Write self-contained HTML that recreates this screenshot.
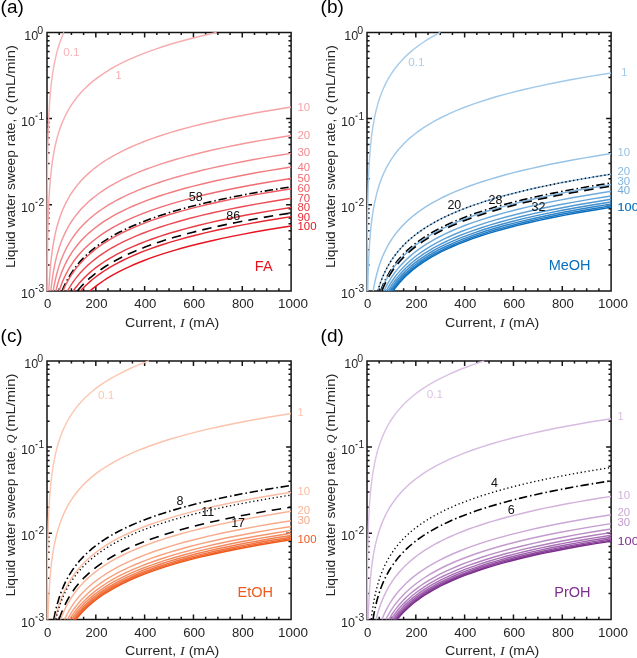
<!DOCTYPE html><html><head><meta charset="utf-8"><style>html,body{margin:0;padding:0;background:#fff;}svg{display:block;filter:blur(0.35px);}svg{font-family:"Liberation Sans",sans-serif;}</style></head><body>
<svg width="637" height="658" viewBox="0 0 637 658">
<rect width="637" height="658" fill="#fff"/>
<defs><clipPath id="clip"><rect x="46.30" y="31.70" width="245.50" height="259.90"/></clipPath></defs>
<g transform="translate(0,0)">
<text x="0.6" y="13.1" font-size="17.5" fill="#000" textLength="23.2" lengthAdjust="spacingAndGlyphs">(a)</text>
<path d="M47.00 32.40H291.10V290.90H47.00Z" fill="none" stroke="#151515" stroke-width="1.50"/>
<text x="47.70" y="308.1" font-size="12.5" fill="#262626" text-anchor="middle" textLength="7.30" lengthAdjust="spacingAndGlyphs">0</text>
<text x="96.52" y="308.1" font-size="12.5" fill="#262626" text-anchor="middle" textLength="21.90" lengthAdjust="spacingAndGlyphs">200</text>
<text x="145.34" y="308.1" font-size="12.5" fill="#262626" text-anchor="middle" textLength="21.90" lengthAdjust="spacingAndGlyphs">400</text>
<text x="194.16" y="308.1" font-size="12.5" fill="#262626" text-anchor="middle" textLength="21.90" lengthAdjust="spacingAndGlyphs">600</text>
<text x="242.98" y="308.1" font-size="12.5" fill="#262626" text-anchor="middle" textLength="21.90" lengthAdjust="spacingAndGlyphs">800</text>
<text x="293.00" y="308.1" font-size="12.5" fill="#262626" text-anchor="middle" textLength="30.00" lengthAdjust="spacingAndGlyphs">1000</text>
<text x="35.10" y="298.10" font-size="12.5" fill="#262626" text-anchor="end" textLength="14.0" lengthAdjust="spacingAndGlyphs">10</text>
<rect x="35.4" y="288.00" width="2.2" height="1.0" fill="#262626"/>
<text x="44.2" y="292.00" font-size="10.3" fill="#262626" text-anchor="end">3</text>
<text x="35.10" y="211.93" font-size="12.5" fill="#262626" text-anchor="end" textLength="14.0" lengthAdjust="spacingAndGlyphs">10</text>
<rect x="35.4" y="201.83" width="2.2" height="1.0" fill="#262626"/>
<text x="44.2" y="205.83" font-size="10.3" fill="#262626" text-anchor="end">2</text>
<text x="35.10" y="125.77" font-size="12.5" fill="#262626" text-anchor="end" textLength="14.0" lengthAdjust="spacingAndGlyphs">10</text>
<rect x="35.4" y="115.67" width="2.2" height="1.0" fill="#262626"/>
<text x="44.2" y="119.67" font-size="10.3" fill="#262626" text-anchor="end">1</text>
<text x="38.30" y="39.60" font-size="12.5" fill="#262626" text-anchor="end" textLength="14.0" lengthAdjust="spacingAndGlyphs">10</text>
<text x="43.2" y="33.50" font-size="10.6" fill="#262626" text-anchor="end">0</text>
<text x="125.00" y="326.6" font-size="12.5" fill="#262626" textLength="94.3" lengthAdjust="spacingAndGlyphs">Current, <tspan font-family="Liberation Serif" font-style="italic">I</tspan> (mA)</text>
<g transform="translate(14.9,0) rotate(-90)">
<text x="-268.00" y="0" font-size="12.5" fill="#262626" textLength="149.30" lengthAdjust="spacingAndGlyphs">Liquid water sweep rate,</text>
<text x="-115.10" y="0" font-size="12.5" fill="#262626" font-family="Liberation Serif" font-style="italic">Q</text>
<text x="-103.20" y="0" font-size="12.5" fill="#262626" textLength="58.10" lengthAdjust="spacingAndGlyphs">(mL/min)</text>
</g>
<path d="M59.20 290.90v-2.60M59.20 32.40v2.60M71.41 290.90v-2.60M71.41 32.40v2.60M83.62 290.90v-2.60M83.62 32.40v2.60M95.82 290.90v-5.00M95.82 32.40v5.00M108.03 290.90v-2.60M108.03 32.40v2.60M120.23 290.90v-2.60M120.23 32.40v2.60M132.44 290.90v-2.60M132.44 32.40v2.60M144.64 290.90v-5.00M144.64 32.40v5.00M156.85 290.90v-2.60M156.85 32.40v2.60M169.05 290.90v-2.60M169.05 32.40v2.60M181.25 290.90v-2.60M181.25 32.40v2.60M193.46 290.90v-5.00M193.46 32.40v5.00M205.67 290.90v-2.60M205.67 32.40v2.60M217.87 290.90v-2.60M217.87 32.40v2.60M230.08 290.90v-2.60M230.08 32.40v2.60M242.28 290.90v-5.00M242.28 32.40v5.00M254.49 290.90v-2.60M254.49 32.40v2.60M266.69 290.90v-2.60M266.69 32.40v2.60M278.90 290.90v-2.60M278.90 32.40v2.60M47.00 264.96h2.60M291.10 264.96h-2.60M47.00 249.79h2.60M291.10 249.79h-2.60M47.00 239.02h2.60M291.10 239.02h-2.60M47.00 230.67h2.60M291.10 230.67h-2.60M47.00 223.85h2.60M291.10 223.85h-2.60M47.00 218.08h2.60M291.10 218.08h-2.60M47.00 213.08h2.60M291.10 213.08h-2.60M47.00 208.68h2.60M291.10 208.68h-2.60M47.00 204.73h5.00M291.10 204.73h-5.00M47.00 178.79h2.60M291.10 178.79h-2.60M47.00 163.62h2.60M291.10 163.62h-2.60M47.00 152.86h2.60M291.10 152.86h-2.60M47.00 144.51h2.60M291.10 144.51h-2.60M47.00 137.68h2.60M291.10 137.68h-2.60M47.00 131.91h2.60M291.10 131.91h-2.60M47.00 126.92h2.60M291.10 126.92h-2.60M47.00 122.51h2.60M291.10 122.51h-2.60M47.00 118.57h5.00M291.10 118.57h-5.00M47.00 92.63h2.60M291.10 92.63h-2.60M47.00 77.45h2.60M291.10 77.45h-2.60M47.00 66.69h2.60M291.10 66.69h-2.60M47.00 58.34h2.60M291.10 58.34h-2.60M47.00 51.52h2.60M291.10 51.52h-2.60M47.00 45.75h2.60M291.10 45.75h-2.60M47.00 40.75h2.60M291.10 40.75h-2.60M47.00 36.34h2.60M291.10 36.34h-2.60" fill="none" stroke="#151515" stroke-width="1.50"/>
<g clip-path="url(#clip)" fill="none"><path d="M47.02 290.90L47.03 274.74 47.04 258.59 47.06 242.43 47.09 226.27 47.15 210.12 47.22 193.96 47.35 177.81 47.53 161.65 47.82 145.49 48.26 129.34 48.95 113.18 49.42 105.10 50.00 97.02 50.72 88.95 51.62 80.87 52.73 72.79 54.11 64.71 54.92 60.67 55.83 56.63 56.83 52.60 57.95 48.56 59.20 44.52 60.59 40.48 62.14 36.44 63.87 32.40" stroke="#f8b4b6" stroke-width="1.45"/><path d="M47.17 290.90L47.26 274.74 47.40 258.59 47.62 242.43 47.95 226.27 48.47 210.12 48.82 202.04 49.26 193.96 49.81 185.88 50.48 177.81 51.32 169.73 52.36 161.65 53.65 153.57 54.41 149.53 55.26 145.49 56.20 141.45 57.25 137.42 58.42 133.38 59.72 129.34 61.17 125.30 62.78 121.26 64.58 117.22 66.58 113.18 68.82 109.14 71.30 105.10 74.07 101.06 77.16 97.02 80.59 92.99 84.42 88.95 88.69 84.91 91.00 82.89 93.44 80.87 96.01 78.85 98.73 76.83 101.60 74.81 104.63 72.79 107.82 70.77 111.20 68.75 114.76 66.73 118.51 64.71 122.48 62.69 126.66 60.67 131.08 58.65 135.74 56.63 140.66 54.61 145.86 52.60 151.34 50.58 157.12 48.56 163.23 46.54 169.68 44.52 176.48 42.50 183.66 40.48 191.24 38.46 199.23 36.44 207.67 34.42 216.58 32.40" stroke="#f7adaf" stroke-width="1.45"/><path d="M48.79 290.90L49.44 279.41 50.32 267.92 50.87 262.17 51.51 256.43 52.26 250.68 53.13 244.94 54.15 239.19 55.33 233.45 56.71 227.70 58.33 221.96 60.21 216.21 62.40 210.47 63.63 207.60 64.95 204.72 66.38 201.85 67.93 198.98 69.60 196.11 71.40 193.23 73.35 190.36 75.45 187.49 77.72 184.62 80.17 181.74 82.82 178.87 85.68 176.00 88.77 173.13 92.10 170.25 95.70 167.38 99.58 164.51 103.78 161.64 108.31 158.76 113.20 155.89 118.48 153.02 124.18 150.15 130.34 147.27 136.99 144.40 144.17 141.53 151.92 138.66 160.29 135.78 169.33 132.91 179.09 130.04 189.63 127.17 201.01 124.29 213.30 121.42 226.56 118.55 240.89 115.68 256.36 112.80 273.06 109.93 291.10 107.06" stroke="#f6a3a5" stroke-width="1.45"/><path d="M50.84 290.90L51.98 281.19 52.67 276.33 53.45 271.48 54.34 266.62 55.36 261.76 56.52 256.91 57.84 252.05 59.34 247.19 61.05 242.34 63.00 237.48 65.21 232.63 67.74 227.77 69.13 225.34 70.61 222.91 72.19 220.49 73.88 218.06 75.69 215.63 77.61 213.20 79.66 210.77 81.85 208.35 84.19 205.92 86.68 203.49 89.34 201.06 92.18 198.63 95.21 196.21 98.44 193.78 101.89 191.35 105.56 188.92 109.49 186.49 113.68 184.07 118.15 181.64 122.92 179.21 128.01 176.78 133.44 174.35 139.23 171.92 145.42 169.50 152.01 167.07 159.05 164.64 166.56 162.21 174.58 159.78 183.13 157.36 192.26 154.93 201.99 152.50 212.38 150.07 223.47 147.64 235.30 145.22 247.92 142.79 261.39 140.36 275.76 137.93 291.10 135.50" stroke="#f5969a" stroke-width="1.45"/><path d="M53.19 290.90L53.94 286.60 54.78 282.30 55.73 278.01 56.79 273.71 57.99 269.41 59.32 265.11 60.82 260.81 62.50 256.52 64.39 252.22 66.51 247.92 68.88 243.62 71.55 239.32 74.53 235.03 77.88 230.73 79.71 228.58 81.64 226.43 83.69 224.28 85.86 222.13 88.16 219.98 90.59 217.83 93.16 215.69 95.89 213.54 98.78 211.39 101.84 209.24 105.09 207.09 108.52 204.94 112.15 202.79 116.01 200.64 120.08 198.49 124.40 196.34 128.98 194.20 133.83 192.05 138.96 189.90 144.39 187.75 150.15 185.60 156.25 183.45 162.70 181.30 169.54 179.15 176.79 177.00 184.46 174.85 192.58 172.71 201.19 170.56 210.30 168.41 219.95 166.26 230.18 164.11 241.00 161.96 252.47 159.81 264.61 157.66 277.48 155.51 291.10 153.36" stroke="#f3898d" stroke-width="1.45"/><path d="M55.91 290.90L56.88 287.03 57.96 283.16 59.15 279.29 60.48 275.42 61.95 271.54 63.58 267.67 65.38 263.80 67.39 259.93 69.61 256.06 72.07 252.19 74.81 248.32 77.84 244.45 81.20 240.58 84.92 236.70 89.06 232.83 93.64 228.96 98.72 225.09 101.47 223.16 104.36 221.22 107.40 219.28 110.61 217.35 113.99 215.41 117.54 213.48 121.29 211.54 125.23 209.61 129.39 207.67 133.76 205.74 138.36 203.80 143.21 201.86 148.32 199.93 153.70 197.99 159.36 196.06 165.33 194.12 171.61 192.19 178.22 190.25 185.19 188.32 192.53 186.38 200.25 184.44 208.39 182.51 216.95 180.57 225.97 178.64 235.47 176.70 245.48 174.77 256.02 172.83 267.11 170.90 278.80 168.96 291.10 167.02" stroke="#f27b7f" stroke-width="1.45"/><path d="M59.11 290.90L60.31 287.39 61.61 283.88 63.05 280.36 64.63 276.85 66.37 273.34 68.27 269.83 70.37 266.32 72.67 262.80 75.19 259.29 77.96 255.78 81.01 252.27 84.36 248.76 88.03 245.24 92.07 241.73 96.51 238.22 101.38 234.71 106.73 231.19 112.61 227.68 119.06 224.17 126.15 220.66 133.94 217.15 142.49 213.63 151.89 210.12 162.21 206.61 173.55 203.10 186.00 199.59 199.68 196.07 207.01 194.32 214.70 192.56 222.76 190.81 231.20 189.05 240.05 187.29 249.32 185.54 259.05 183.78 269.23 182.03 279.91 180.27 291.10 178.51" stroke="#f06b71" stroke-width="1.45"/><path d="M62.11 290.90L63.48 287.65 64.98 284.39 66.61 281.14 68.39 277.89 70.34 274.63 72.46 271.38 74.77 268.12 77.29 264.87 80.04 261.62 83.04 258.36 86.32 255.11 89.89 251.86 93.79 248.60 98.04 245.35 102.67 242.09 107.73 238.84 113.25 235.59 119.26 232.33 125.83 229.08 132.99 225.83 140.80 222.57 149.32 219.32 158.62 216.07 168.75 212.81 179.81 209.56 191.88 206.30 205.04 203.05 219.40 199.80 235.06 196.54 252.14 193.29 270.77 190.04 291.10 186.78" stroke="#000" stroke-width="1.60" stroke-dasharray="8.4 3.0 1.5 2.8"/><path d="M62.93 290.90L64.35 287.71 65.89 284.52 67.58 281.32 69.41 278.13 71.40 274.94 73.57 271.75 75.94 268.56 78.52 265.37 81.32 262.17 84.38 258.98 87.71 255.79 91.33 252.60 95.28 249.41 99.58 246.21 104.26 243.02 109.36 239.83 114.91 236.64 120.96 233.45 127.54 230.26 134.71 227.06 142.52 223.87 151.03 220.68 160.29 217.49 170.38 214.30 181.36 211.10 193.32 207.91 206.35 204.72 220.54 201.53 235.99 198.34 252.82 195.15 271.14 191.95 291.10 188.76" stroke="#ee5b62" stroke-width="1.45"/><path d="M67.56 290.90L69.21 288.01 70.99 285.11 72.92 282.22 75.01 279.33 77.26 276.43 79.69 273.54 82.32 270.64 85.16 267.75 88.23 264.86 91.54 261.96 95.12 259.07 98.99 256.18 103.17 253.28 107.69 250.39 112.56 247.49 117.83 244.60 123.53 241.71 129.68 238.81 136.33 235.92 143.51 233.03 151.27 230.13 159.65 227.24 168.71 224.34 178.49 221.45 189.07 218.56 200.49 215.66 212.83 212.77 226.16 209.88 240.56 206.98 256.12 204.09 272.94 201.20 291.10 198.30" stroke="#ec4a52" stroke-width="1.45"/><path d="M73.28 290.90L75.17 288.29 77.21 285.69 79.38 283.08 81.72 280.47 84.23 277.87 86.91 275.26 89.79 272.65 92.88 270.05 96.19 267.44 99.73 264.84 103.54 262.23 107.62 259.62 111.99 257.02 116.68 254.41 121.70 251.80 127.09 249.20 132.87 246.59 139.06 243.98 145.70 241.38 152.82 238.77 160.46 236.16 168.64 233.56 177.41 230.95 186.82 228.34 196.91 225.74 207.72 223.13 219.31 220.53 231.74 217.92 245.07 215.31 259.36 212.71 274.68 210.10 291.10 207.49" stroke="#ea3941" stroke-width="1.45"/><path d="M77.41 290.90L79.46 288.46 81.64 286.03 83.97 283.59 86.46 281.16 89.11 278.72 91.94 276.29 94.96 273.85 98.19 271.42 101.63 268.98 105.31 266.54 109.23 264.11 113.41 261.67 117.88 259.24 122.65 256.80 127.73 254.37 133.16 251.93 138.96 249.50 145.14 247.06 151.74 244.62 158.78 242.19 166.30 239.75 174.32 237.32 182.89 234.88 192.02 232.45 201.78 230.01 212.19 227.58 223.29 225.14 235.15 222.70 247.80 220.27 261.31 217.83 275.72 215.40 291.10 212.96" stroke="#000" stroke-width="1.60" stroke-dasharray="9.5 6.2"/><path d="M80.54 290.90L82.69 288.58 84.97 286.26 87.40 283.94 89.99 281.62 92.74 279.29 95.66 276.97 98.78 274.65 102.09 272.33 105.61 270.01 109.37 267.69 113.36 265.37 117.60 263.05 122.12 260.73 126.93 258.40 132.04 256.08 137.48 253.76 143.27 251.44 149.43 249.12 155.99 246.80 162.96 244.48 170.38 242.16 178.28 239.84 186.68 237.51 195.62 235.19 205.13 232.87 215.25 230.55 226.01 228.23 237.47 225.91 249.65 223.59 262.62 221.27 276.42 218.95 291.10 216.62" stroke="#e82730" stroke-width="1.45"/><path d="M90.06 290.90L92.46 288.87 94.99 286.84 97.67 284.81 100.49 282.78 103.47 280.76 106.62 278.73 109.94 276.70 113.44 274.67 117.15 272.64 121.05 270.61 125.18 268.58 129.54 266.55 134.13 264.52 138.99 262.50 144.11 260.47 149.53 258.44 155.24 256.41 161.27 254.38 167.63 252.35 174.35 250.32 181.45 248.29 188.94 246.26 196.85 244.24 205.20 242.21 214.01 240.18 223.32 238.15 233.14 236.12 243.51 234.09 254.46 232.06 266.02 230.03 278.22 228.00 291.10 225.98" stroke="#e6141e" stroke-width="1.45"/></g>
<text x="297.50" y="110.84" font-size="11" fill="#f6a3a5" textLength="12.70" lengthAdjust="spacingAndGlyphs">10</text>
<text x="297.50" y="139.24" font-size="11" fill="#f5969a" textLength="12.70" lengthAdjust="spacingAndGlyphs">20</text>
<text x="297.50" y="156.44" font-size="11" fill="#f3898d" textLength="12.70" lengthAdjust="spacingAndGlyphs">30</text>
<text x="297.50" y="170.64" font-size="11" fill="#f27b7f" textLength="12.70" lengthAdjust="spacingAndGlyphs">40</text>
<text x="297.50" y="181.54" font-size="11" fill="#f06b71" textLength="12.70" lengthAdjust="spacingAndGlyphs">50</text>
<text x="297.50" y="191.64" font-size="11" fill="#ee5b62" textLength="12.70" lengthAdjust="spacingAndGlyphs">60</text>
<text x="297.50" y="201.74" font-size="11" fill="#ec4a52" textLength="12.70" lengthAdjust="spacingAndGlyphs">70</text>
<text x="297.50" y="211.24" font-size="11" fill="#ea3941" textLength="12.70" lengthAdjust="spacingAndGlyphs">80</text>
<text x="297.50" y="220.64" font-size="11" fill="#e82730" textLength="12.70" lengthAdjust="spacingAndGlyphs">90</text>
<text x="297.50" y="230.24" font-size="11" fill="#e6141e" textLength="19.05" lengthAdjust="spacingAndGlyphs">100</text>
<text x="71.30" y="55.94" font-size="11" fill="#f8b4b6" text-anchor="middle" textLength="16.3" lengthAdjust="spacingAndGlyphs">0.1</text>
<text x="118.50" y="78.84" font-size="11" fill="#f7adaf" text-anchor="middle">1</text>
<text x="195.80" y="200.77" font-size="12.5" fill="#111" text-anchor="middle">58</text>
<text x="233.20" y="219.87" font-size="12.5" fill="#111" text-anchor="middle">86</text>
<text x="272.60" y="270.60" font-size="14.5" fill="#e6141e" text-anchor="end">FA</text>
</g>
<g transform="translate(320,0)">
<text x="0.6" y="13.1" font-size="17.5" fill="#000" textLength="23.2" lengthAdjust="spacingAndGlyphs">(b)</text>
<path d="M47.00 32.40H291.10V290.90H47.00Z" fill="none" stroke="#151515" stroke-width="1.50"/>
<text x="47.70" y="308.1" font-size="12.5" fill="#262626" text-anchor="middle" textLength="7.30" lengthAdjust="spacingAndGlyphs">0</text>
<text x="96.52" y="308.1" font-size="12.5" fill="#262626" text-anchor="middle" textLength="21.90" lengthAdjust="spacingAndGlyphs">200</text>
<text x="145.34" y="308.1" font-size="12.5" fill="#262626" text-anchor="middle" textLength="21.90" lengthAdjust="spacingAndGlyphs">400</text>
<text x="194.16" y="308.1" font-size="12.5" fill="#262626" text-anchor="middle" textLength="21.90" lengthAdjust="spacingAndGlyphs">600</text>
<text x="242.98" y="308.1" font-size="12.5" fill="#262626" text-anchor="middle" textLength="21.90" lengthAdjust="spacingAndGlyphs">800</text>
<text x="293.00" y="308.1" font-size="12.5" fill="#262626" text-anchor="middle" textLength="30.00" lengthAdjust="spacingAndGlyphs">1000</text>
<text x="35.10" y="298.10" font-size="12.5" fill="#262626" text-anchor="end" textLength="14.0" lengthAdjust="spacingAndGlyphs">10</text>
<rect x="35.4" y="288.00" width="2.2" height="1.0" fill="#262626"/>
<text x="44.2" y="292.00" font-size="10.3" fill="#262626" text-anchor="end">3</text>
<text x="35.10" y="211.93" font-size="12.5" fill="#262626" text-anchor="end" textLength="14.0" lengthAdjust="spacingAndGlyphs">10</text>
<rect x="35.4" y="201.83" width="2.2" height="1.0" fill="#262626"/>
<text x="44.2" y="205.83" font-size="10.3" fill="#262626" text-anchor="end">2</text>
<text x="35.10" y="125.77" font-size="12.5" fill="#262626" text-anchor="end" textLength="14.0" lengthAdjust="spacingAndGlyphs">10</text>
<rect x="35.4" y="115.67" width="2.2" height="1.0" fill="#262626"/>
<text x="44.2" y="119.67" font-size="10.3" fill="#262626" text-anchor="end">1</text>
<text x="38.30" y="39.60" font-size="12.5" fill="#262626" text-anchor="end" textLength="14.0" lengthAdjust="spacingAndGlyphs">10</text>
<text x="43.2" y="33.50" font-size="10.6" fill="#262626" text-anchor="end">0</text>
<text x="125.00" y="326.6" font-size="12.5" fill="#262626" textLength="94.3" lengthAdjust="spacingAndGlyphs">Current, <tspan font-family="Liberation Serif" font-style="italic">I</tspan> (mA)</text>
<g transform="translate(14.9,0) rotate(-90)">
<text x="-268.00" y="0" font-size="12.5" fill="#262626" textLength="149.30" lengthAdjust="spacingAndGlyphs">Liquid water sweep rate,</text>
<text x="-115.10" y="0" font-size="12.5" fill="#262626" font-family="Liberation Serif" font-style="italic">Q</text>
<text x="-103.20" y="0" font-size="12.5" fill="#262626" textLength="58.10" lengthAdjust="spacingAndGlyphs">(mL/min)</text>
</g>
<path d="M59.20 290.90v-2.60M59.20 32.40v2.60M71.41 290.90v-2.60M71.41 32.40v2.60M83.62 290.90v-2.60M83.62 32.40v2.60M95.82 290.90v-5.00M95.82 32.40v5.00M108.03 290.90v-2.60M108.03 32.40v2.60M120.23 290.90v-2.60M120.23 32.40v2.60M132.44 290.90v-2.60M132.44 32.40v2.60M144.64 290.90v-5.00M144.64 32.40v5.00M156.85 290.90v-2.60M156.85 32.40v2.60M169.05 290.90v-2.60M169.05 32.40v2.60M181.25 290.90v-2.60M181.25 32.40v2.60M193.46 290.90v-5.00M193.46 32.40v5.00M205.67 290.90v-2.60M205.67 32.40v2.60M217.87 290.90v-2.60M217.87 32.40v2.60M230.08 290.90v-2.60M230.08 32.40v2.60M242.28 290.90v-5.00M242.28 32.40v5.00M254.49 290.90v-2.60M254.49 32.40v2.60M266.69 290.90v-2.60M266.69 32.40v2.60M278.90 290.90v-2.60M278.90 32.40v2.60M47.00 264.96h2.60M291.10 264.96h-2.60M47.00 249.79h2.60M291.10 249.79h-2.60M47.00 239.02h2.60M291.10 239.02h-2.60M47.00 230.67h2.60M291.10 230.67h-2.60M47.00 223.85h2.60M291.10 223.85h-2.60M47.00 218.08h2.60M291.10 218.08h-2.60M47.00 213.08h2.60M291.10 213.08h-2.60M47.00 208.68h2.60M291.10 208.68h-2.60M47.00 204.73h5.00M291.10 204.73h-5.00M47.00 178.79h2.60M291.10 178.79h-2.60M47.00 163.62h2.60M291.10 163.62h-2.60M47.00 152.86h2.60M291.10 152.86h-2.60M47.00 144.51h2.60M291.10 144.51h-2.60M47.00 137.68h2.60M291.10 137.68h-2.60M47.00 131.91h2.60M291.10 131.91h-2.60M47.00 126.92h2.60M291.10 126.92h-2.60M47.00 122.51h2.60M291.10 122.51h-2.60M47.00 118.57h5.00M291.10 118.57h-5.00M47.00 92.63h2.60M291.10 92.63h-2.60M47.00 77.45h2.60M291.10 77.45h-2.60M47.00 66.69h2.60M291.10 66.69h-2.60M47.00 58.34h2.60M291.10 58.34h-2.60M47.00 51.52h2.60M291.10 51.52h-2.60M47.00 45.75h2.60M291.10 45.75h-2.60M47.00 40.75h2.60M291.10 40.75h-2.60M47.00 36.34h2.60M291.10 36.34h-2.60" fill="none" stroke="#151515" stroke-width="1.50"/>
<g clip-path="url(#clip)" fill="none"><path d="M47.07 290.90L47.11 274.74 47.17 258.59 47.27 242.43 47.41 226.27 47.64 210.12 47.98 193.96 48.51 177.81 48.87 169.73 49.32 161.65 49.88 153.57 50.57 145.49 51.43 137.42 52.50 129.34 53.83 121.26 54.61 117.22 55.47 113.18 56.44 109.14 57.51 105.10 58.71 101.06 60.05 97.02 61.53 92.99 63.19 88.95 65.04 84.91 67.09 80.87 69.38 76.83 71.93 72.79 74.77 68.75 77.94 64.71 81.47 60.67 85.39 56.63 87.52 54.61 89.77 52.60 92.14 50.58 94.65 48.56 97.29 46.54 100.08 44.52 103.02 42.50 106.13 40.48 109.40 38.46 112.86 36.44 116.52 34.42 120.37 32.40" stroke="#a8cdeb" stroke-width="1.45"/><path d="M47.72 290.90L48.04 277.28 48.50 263.66 49.15 250.04 49.58 243.23 50.10 236.42 50.71 229.61 51.45 222.80 52.34 215.99 53.41 209.18 54.69 202.37 56.23 195.56 57.10 192.15 58.07 188.75 59.12 185.34 60.28 181.94 61.54 178.53 62.92 175.13 64.44 171.72 66.10 168.32 67.92 164.91 69.92 161.51 72.10 158.10 74.49 154.70 77.11 151.29 79.98 147.89 83.12 144.48 86.56 141.08 90.33 137.67 94.45 134.27 98.97 130.86 103.93 127.46 109.35 124.05 115.29 120.65 121.79 117.24 128.92 113.84 136.72 110.43 145.27 107.03 154.63 103.62 164.88 100.22 176.11 96.81 188.41 93.41 201.88 90.00 216.63 86.60 232.79 83.19 250.49 79.79 269.87 76.38 291.10 72.98" stroke="#a1c9e9" stroke-width="1.45"/><path d="M53.22 290.90L53.98 286.61 54.83 282.32 55.78 278.03 56.84 273.74 58.04 269.45 59.38 265.15 60.89 260.86 62.57 256.57 64.47 252.28 66.59 247.99 68.97 243.70 71.64 239.41 74.63 235.12 77.99 230.83 79.82 228.68 81.75 226.54 83.80 224.39 85.98 222.24 88.28 220.10 90.71 217.95 93.29 215.81 96.02 213.66 98.91 211.52 101.98 209.37 105.22 207.23 108.66 205.08 112.30 202.94 116.15 200.79 120.23 198.64 124.55 196.50 129.13 194.35 133.97 192.21 139.10 190.06 144.54 187.92 150.30 185.77 156.39 183.63 162.85 181.48 169.68 179.33 176.92 177.19 184.59 175.04 192.71 172.90 201.30 170.75 210.41 168.61 220.05 166.46 230.26 164.32 241.08 162.17 252.53 160.03 264.66 157.88 277.50 155.73 291.10 153.59" stroke="#97c3e6" stroke-width="1.45"/><path d="M57.79 290.90L58.90 287.25 60.11 283.61 61.46 279.96 62.94 276.31 64.57 272.66 66.37 269.02 68.35 265.37 70.53 261.72 72.94 258.08 75.60 254.43 78.53 250.78 81.76 247.13 85.31 243.49 89.24 239.84 93.56 236.19 98.32 232.54 103.58 228.90 109.37 225.25 115.76 221.60 122.79 217.96 126.58 216.13 130.55 214.31 134.73 212.48 139.11 210.66 143.71 208.84 148.54 207.01 153.61 205.19 158.93 203.37 164.52 201.54 170.39 199.72 176.55 197.90 183.02 196.07 189.81 194.25 196.94 192.43 204.43 190.60 212.29 188.78 220.55 186.95 229.22 185.13 238.32 183.31 247.87 181.48 257.90 179.66 268.43 177.84 279.49 176.01 291.10 174.19" stroke="#8bbbe3" stroke-width="1.45"/><path d="M57.79 290.90L58.90 287.25 60.11 283.61 61.46 279.96 62.94 276.31 64.57 272.66 66.37 269.02 68.35 265.37 70.53 261.72 72.94 258.08 75.60 254.43 78.53 250.78 81.76 247.13 85.31 243.49 89.24 239.84 93.56 236.19 98.32 232.54 103.58 228.90 109.37 225.25 115.76 221.60 122.79 217.96 126.58 216.13 130.55 214.31 134.73 212.48 139.11 210.66 143.71 208.84 148.54 207.01 153.61 205.19 158.93 203.37 164.52 201.54 170.39 199.72 176.55 197.90 183.02 196.07 189.81 194.25 196.94 192.43 204.43 190.60 212.29 188.78 220.55 186.95 229.22 185.13 238.32 183.31 247.87 181.48 257.90 179.66 268.43 177.84 279.49 176.01 291.10 174.19" stroke="#000" stroke-width="1.35" stroke-dasharray="1.3 2.65"/><path d="M60.66 290.90L61.94 287.53 63.35 284.16 64.89 280.78 66.58 277.41 68.43 274.04 70.45 270.67 72.66 267.30 75.08 263.92 77.73 260.55 80.62 257.18 83.79 253.81 87.26 250.44 91.06 247.06 95.21 243.69 99.76 240.32 104.74 236.95 110.18 233.58 116.14 230.21 122.66 226.83 129.79 223.46 137.60 220.09 146.14 216.72 155.49 213.35 165.71 209.97 176.91 206.60 189.16 203.23 202.56 199.86 217.23 196.49 233.28 193.11 250.85 189.74 270.07 186.37 291.10 183.00" stroke="#000" stroke-width="1.60" stroke-dasharray="8.4 3.0 1.5 2.8"/><path d="M61.29 290.90L62.61 287.58 64.06 284.26 65.64 280.94 67.37 277.62 69.26 274.30 71.33 270.99 73.58 267.67 76.05 264.35 78.74 261.03 81.69 257.71 84.90 254.39 88.42 251.07 92.26 247.75 96.46 244.43 101.04 241.11 106.06 237.80 111.53 234.48 117.52 231.16 124.06 227.84 131.21 224.52 139.02 221.20 147.55 217.88 156.88 214.56 167.07 211.24 178.20 207.92 190.37 204.61 203.67 201.29 218.20 197.97 234.07 194.65 251.42 191.33 270.38 188.01 291.10 184.69" stroke="#7eb3df" stroke-width="1.45"/><path d="M61.89 290.90L63.25 287.63 64.74 284.36 66.36 281.09 68.12 277.82 70.05 274.55 72.16 271.28 74.46 268.01 76.96 264.73 79.70 261.46 82.69 258.19 85.95 254.92 89.50 251.65 93.38 248.38 97.62 245.11 102.24 241.84 107.29 238.57 112.80 235.30 118.81 232.03 125.36 228.76 132.52 225.49 140.33 222.22 148.86 218.94 158.16 215.67 168.31 212.40 179.39 209.13 191.48 205.86 204.68 202.59 219.08 199.32 234.80 196.05 251.95 192.78 270.67 189.51 291.10 186.24" stroke="#000" stroke-width="1.60" stroke-dasharray="9.5 6.2"/><path d="M64.05 290.90L65.53 287.79 67.14 284.68 68.88 281.56 70.78 278.45 72.84 275.34 75.08 272.23 77.52 269.11 80.16 266.00 83.04 262.89 86.17 259.78 89.56 256.66 93.26 253.55 97.27 250.44 101.63 247.33 106.36 244.21 111.51 241.10 117.11 237.99 123.19 234.88 129.79 231.76 136.98 228.65 144.78 225.54 153.26 222.43 162.47 219.32 172.49 216.20 183.37 213.09 195.20 209.98 208.05 206.87 222.02 203.75 237.20 200.64 253.69 197.53 271.62 194.42 291.10 191.30" stroke="#6fabda" stroke-width="1.45"/><path d="M66.29 290.90L67.88 287.93 69.60 284.96 71.47 282.00 73.49 279.03 75.67 276.06 78.04 273.09 80.60 270.12 83.38 267.15 86.38 264.19 89.63 261.22 93.15 258.25 96.96 255.28 101.08 252.31 105.55 249.35 110.38 246.38 115.61 243.41 121.28 240.44 127.41 237.47 134.05 234.50 141.23 231.54 149.01 228.57 157.43 225.60 166.55 222.63 176.42 219.66 187.10 216.69 198.66 213.73 211.18 210.76 224.74 207.79 239.41 204.82 255.29 201.85 272.49 198.89 291.10 195.92" stroke="#60a2d6" stroke-width="1.45"/><path d="M68.14 290.90L69.81 288.04 71.63 285.18 73.58 282.32 75.70 279.46 77.98 276.59 80.44 273.73 83.09 270.87 85.96 268.01 89.06 265.15 92.40 262.29 96.01 259.43 99.90 256.57 104.10 253.70 108.64 250.84 113.54 247.98 118.83 245.12 124.53 242.26 130.69 239.40 137.34 236.54 144.52 233.68 152.27 230.82 160.64 227.95 169.67 225.09 179.41 222.23 189.93 219.37 201.29 216.51 213.55 213.65 226.78 210.79 241.07 207.93 256.49 205.06 273.13 202.20 291.10 199.34" stroke="#5098d1" stroke-width="1.45"/><path d="M69.69 290.90L71.44 288.12 73.32 285.34 75.35 282.57 77.53 279.79 79.89 277.01 82.42 274.23 85.15 271.45 88.09 268.67 91.26 265.90 94.67 263.12 98.34 260.34 102.30 257.56 106.56 254.78 111.15 252.00 116.09 249.23 121.42 246.45 127.15 243.67 133.33 240.89 139.98 238.11 147.15 235.34 154.87 232.56 163.18 229.78 172.14 227.00 181.78 224.22 192.17 221.44 203.35 218.67 215.40 215.89 228.38 213.11 242.36 210.33 257.42 207.55 273.63 204.77 291.10 202.00" stroke="#408ecd" stroke-width="1.45"/><path d="M71.01 290.90L72.82 288.19 74.76 285.48 76.84 282.76 79.09 280.05 81.50 277.34 84.09 274.63 86.88 271.92 89.88 269.20 93.10 266.49 96.56 263.78 100.29 261.07 104.29 258.36 108.60 255.64 113.23 252.93 118.21 250.22 123.56 247.51 129.31 244.80 135.50 242.09 142.15 239.37 149.30 236.66 156.99 233.95 165.26 231.24 174.15 228.53 183.70 225.81 193.98 223.10 205.03 220.39 216.90 217.68 229.67 214.97 243.40 212.25 258.16 209.54 274.04 206.83 291.10 204.12" stroke="#2e84c8" stroke-width="1.45"/><path d="M72.15 290.90L74.00 288.24 75.99 285.58 78.13 282.93 80.42 280.27 82.88 277.61 85.52 274.95 88.35 272.30 91.40 269.64 94.66 266.98 98.17 264.32 101.94 261.67 105.98 259.01 110.32 256.35 114.98 253.69 119.99 251.04 125.36 248.38 131.12 245.72 137.32 243.06 143.96 240.40 151.10 237.75 158.76 235.09 166.99 232.43 175.82 229.77 185.30 227.12 195.48 224.46 206.41 221.80 218.14 219.14 230.74 216.49 244.26 213.83 258.78 211.17 274.37 208.51 291.10 205.86" stroke="#1c79c2" stroke-width="1.45"/><path d="M73.15 290.90L75.04 288.29 77.06 285.68 79.24 283.06 81.57 280.45 84.07 277.84 86.75 275.23 89.62 272.61 92.70 270.00 96.01 267.39 99.55 264.78 103.35 262.16 107.43 259.55 111.80 256.94 116.48 254.33 121.50 251.72 126.89 249.10 132.67 246.49 138.86 243.88 145.50 241.27 152.62 238.65 160.26 236.04 168.45 233.43 177.23 230.82 186.65 228.20 196.74 225.59 207.57 222.98 219.18 220.37 231.63 217.76 244.98 215.14 259.29 212.53 274.64 209.92 291.10 207.31" stroke="#0a6ebd" stroke-width="1.45"/></g>
<text x="301.30" y="76.24" font-size="11" fill="#a1c9e9">1</text>
<text x="297.50" y="155.64" font-size="11" fill="#97c3e6" textLength="12.70" lengthAdjust="spacingAndGlyphs">10</text>
<text x="297.50" y="174.94" font-size="11" fill="#8bbbe3" textLength="12.70" lengthAdjust="spacingAndGlyphs">20</text>
<text x="297.50" y="184.64" font-size="11" fill="#7eb3df" textLength="12.70" lengthAdjust="spacingAndGlyphs">30</text>
<text x="297.50" y="193.74" font-size="11" fill="#6fabda" textLength="12.70" lengthAdjust="spacingAndGlyphs">40</text>
<text x="297.50" y="210.84" font-size="11" fill="#0a6ebd" textLength="21.3" lengthAdjust="spacingAndGlyphs" stroke="#0a6ebd" stroke-width="0.15">100</text>
<text x="96.50" y="65.94" font-size="11" fill="#a8cdeb" text-anchor="middle" textLength="16.3" lengthAdjust="spacingAndGlyphs">0.1</text>
<text x="134.35" y="209.07" font-size="12.5" fill="#111" text-anchor="middle">20</text>
<text x="175.40" y="204.17" font-size="12.5" fill="#111" text-anchor="middle">28</text>
<text x="218.50" y="211.27" font-size="12.5" fill="#111" text-anchor="middle">32</text>
<text x="270.60" y="270.40" font-size="14.5" fill="#0a6ebd" text-anchor="end">MeOH</text>
</g>
<g transform="translate(0,328.5)">
<text x="0.6" y="13.1" font-size="17.5" fill="#000" textLength="22.0" lengthAdjust="spacingAndGlyphs">(c)</text>
<path d="M47.00 32.40H291.10V290.90H47.00Z" fill="none" stroke="#151515" stroke-width="1.50"/>
<text x="47.70" y="308.1" font-size="12.5" fill="#262626" text-anchor="middle" textLength="7.30" lengthAdjust="spacingAndGlyphs">0</text>
<text x="96.52" y="308.1" font-size="12.5" fill="#262626" text-anchor="middle" textLength="21.90" lengthAdjust="spacingAndGlyphs">200</text>
<text x="145.34" y="308.1" font-size="12.5" fill="#262626" text-anchor="middle" textLength="21.90" lengthAdjust="spacingAndGlyphs">400</text>
<text x="194.16" y="308.1" font-size="12.5" fill="#262626" text-anchor="middle" textLength="21.90" lengthAdjust="spacingAndGlyphs">600</text>
<text x="242.98" y="308.1" font-size="12.5" fill="#262626" text-anchor="middle" textLength="21.90" lengthAdjust="spacingAndGlyphs">800</text>
<text x="293.00" y="308.1" font-size="12.5" fill="#262626" text-anchor="middle" textLength="30.00" lengthAdjust="spacingAndGlyphs">1000</text>
<text x="35.10" y="298.10" font-size="12.5" fill="#262626" text-anchor="end" textLength="14.0" lengthAdjust="spacingAndGlyphs">10</text>
<rect x="35.4" y="288.00" width="2.2" height="1.0" fill="#262626"/>
<text x="44.2" y="292.00" font-size="10.3" fill="#262626" text-anchor="end">3</text>
<text x="35.10" y="211.93" font-size="12.5" fill="#262626" text-anchor="end" textLength="14.0" lengthAdjust="spacingAndGlyphs">10</text>
<rect x="35.4" y="201.83" width="2.2" height="1.0" fill="#262626"/>
<text x="44.2" y="205.83" font-size="10.3" fill="#262626" text-anchor="end">2</text>
<text x="35.10" y="125.77" font-size="12.5" fill="#262626" text-anchor="end" textLength="14.0" lengthAdjust="spacingAndGlyphs">10</text>
<rect x="35.4" y="115.67" width="2.2" height="1.0" fill="#262626"/>
<text x="44.2" y="119.67" font-size="10.3" fill="#262626" text-anchor="end">1</text>
<text x="38.30" y="39.60" font-size="12.5" fill="#262626" text-anchor="end" textLength="14.0" lengthAdjust="spacingAndGlyphs">10</text>
<text x="43.2" y="33.50" font-size="10.6" fill="#262626" text-anchor="end">0</text>
<text x="125.00" y="326.6" font-size="12.5" fill="#262626" textLength="94.3" lengthAdjust="spacingAndGlyphs">Current, <tspan font-family="Liberation Serif" font-style="italic">I</tspan> (mA)</text>
<g transform="translate(14.9,0) rotate(-90)">
<text x="-268.00" y="0" font-size="12.5" fill="#262626" textLength="149.30" lengthAdjust="spacingAndGlyphs">Liquid water sweep rate,</text>
<text x="-115.10" y="0" font-size="12.5" fill="#262626" font-family="Liberation Serif" font-style="italic">Q</text>
<text x="-103.20" y="0" font-size="12.5" fill="#262626" textLength="58.10" lengthAdjust="spacingAndGlyphs">(mL/min)</text>
</g>
<path d="M59.20 290.90v-2.60M59.20 32.40v2.60M71.41 290.90v-2.60M71.41 32.40v2.60M83.62 290.90v-2.60M83.62 32.40v2.60M95.82 290.90v-5.00M95.82 32.40v5.00M108.03 290.90v-2.60M108.03 32.40v2.60M120.23 290.90v-2.60M120.23 32.40v2.60M132.44 290.90v-2.60M132.44 32.40v2.60M144.64 290.90v-5.00M144.64 32.40v5.00M156.85 290.90v-2.60M156.85 32.40v2.60M169.05 290.90v-2.60M169.05 32.40v2.60M181.25 290.90v-2.60M181.25 32.40v2.60M193.46 290.90v-5.00M193.46 32.40v5.00M205.67 290.90v-2.60M205.67 32.40v2.60M217.87 290.90v-2.60M217.87 32.40v2.60M230.08 290.90v-2.60M230.08 32.40v2.60M242.28 290.90v-5.00M242.28 32.40v5.00M254.49 290.90v-2.60M254.49 32.40v2.60M266.69 290.90v-2.60M266.69 32.40v2.60M278.90 290.90v-2.60M278.90 32.40v2.60M47.00 264.96h2.60M291.10 264.96h-2.60M47.00 249.79h2.60M291.10 249.79h-2.60M47.00 239.02h2.60M291.10 239.02h-2.60M47.00 230.67h2.60M291.10 230.67h-2.60M47.00 223.85h2.60M291.10 223.85h-2.60M47.00 218.08h2.60M291.10 218.08h-2.60M47.00 213.08h2.60M291.10 213.08h-2.60M47.00 208.68h2.60M291.10 208.68h-2.60M47.00 204.73h5.00M291.10 204.73h-5.00M47.00 178.79h2.60M291.10 178.79h-2.60M47.00 163.62h2.60M291.10 163.62h-2.60M47.00 152.86h2.60M291.10 152.86h-2.60M47.00 144.51h2.60M291.10 144.51h-2.60M47.00 137.68h2.60M291.10 137.68h-2.60M47.00 131.91h2.60M291.10 131.91h-2.60M47.00 126.92h2.60M291.10 126.92h-2.60M47.00 122.51h2.60M291.10 122.51h-2.60M47.00 118.57h5.00M291.10 118.57h-5.00M47.00 92.63h2.60M291.10 92.63h-2.60M47.00 77.45h2.60M291.10 77.45h-2.60M47.00 66.69h2.60M291.10 66.69h-2.60M47.00 58.34h2.60M291.10 58.34h-2.60M47.00 51.52h2.60M291.10 51.52h-2.60M47.00 45.75h2.60M291.10 45.75h-2.60M47.00 40.75h2.60M291.10 40.75h-2.60M47.00 36.34h2.60M291.10 36.34h-2.60" fill="none" stroke="#151515" stroke-width="1.50"/>
<g clip-path="url(#clip)" fill="none"><path d="M47.10 290.90L47.16 274.74 47.24 258.59 47.37 242.43 47.57 226.27 47.88 210.12 48.36 193.96 49.09 177.81 49.60 169.73 50.23 161.65 51.00 153.57 51.97 145.49 53.16 137.42 54.65 129.34 55.52 125.30 56.49 121.26 57.57 117.22 58.78 113.18 60.12 109.14 61.62 105.10 63.28 101.06 65.14 97.02 67.20 92.99 69.51 88.95 72.07 84.91 74.93 80.87 78.11 76.83 81.66 72.79 85.61 68.75 87.75 66.73 90.01 64.71 92.39 62.69 94.91 60.67 97.57 58.65 100.37 56.63 103.33 54.61 106.45 52.60 109.75 50.58 113.23 48.56 116.90 46.54 120.78 44.52 124.87 42.50 129.19 40.48 133.75 38.46 138.56 36.44 143.63 34.42 148.99 32.40" stroke="#fcc8b2" stroke-width="1.45"/><path d="M48.00 290.90L48.41 278.04 48.98 265.17 49.80 252.31 50.32 245.88 50.94 239.44 51.68 233.01 52.56 226.58 53.61 220.15 54.85 213.71 56.32 207.28 58.06 200.85 59.06 197.63 60.14 194.42 61.32 191.20 62.60 187.99 64.00 184.77 65.53 181.55 67.19 178.34 69.00 175.12 70.98 171.91 73.13 168.69 75.48 165.47 78.03 162.26 80.82 159.04 83.85 155.83 87.16 152.61 90.76 149.39 94.69 146.18 98.97 142.96 103.63 139.74 108.71 136.53 114.25 133.31 120.29 130.10 126.87 126.88 134.03 123.66 141.84 120.45 150.35 117.23 159.63 114.02 169.74 110.80 180.75 107.58 192.76 104.37 205.84 101.15 220.09 97.94 235.62 94.72 252.55 91.50 271.00 88.29 291.10 85.07" stroke="#fbc3ab" stroke-width="1.45"/><path d="M53.81 290.90L54.61 286.71 55.51 282.53 56.52 278.34 57.65 274.16 58.91 269.97 60.32 265.78 61.90 261.60 63.66 257.41 65.63 253.23 67.84 249.04 70.30 244.85 73.06 240.67 76.14 236.48 79.59 232.30 83.45 228.11 85.55 226.02 87.76 223.92 90.11 221.83 92.59 219.74 95.21 217.64 97.99 215.55 100.92 213.46 104.02 211.37 107.30 209.27 110.77 207.18 114.44 205.09 118.32 202.99 122.42 200.90 126.76 198.81 131.34 196.71 136.20 194.62 141.33 192.53 146.75 190.44 152.49 188.34 158.56 186.25 164.98 184.16 171.76 182.06 178.94 179.97 186.53 177.88 194.56 175.78 203.04 173.69 212.02 171.60 221.51 169.51 231.55 167.41 242.17 165.32 253.39 163.23 265.27 161.13 277.82 159.04 291.10 156.95" stroke="#000" stroke-width="1.60" stroke-dasharray="8.4 3.0 1.5 2.8"/><path d="M55.17 290.90L56.08 286.93 57.10 282.95 58.23 278.98 59.49 275.01 60.89 271.03 62.44 267.06 64.17 263.09 66.10 259.12 68.23 255.14 70.61 251.17 73.26 247.20 76.20 243.22 79.47 239.25 83.11 235.28 87.15 231.30 91.65 227.33 94.08 225.34 96.65 223.36 99.36 221.37 102.21 219.38 105.22 217.40 108.40 215.41 111.74 213.42 115.27 211.44 119.00 209.45 122.92 207.47 127.06 205.48 131.43 203.49 136.03 201.51 140.88 199.52 146.00 197.53 151.40 195.55 157.09 193.56 163.09 191.57 169.42 189.59 176.10 187.60 183.13 185.61 190.56 183.63 198.38 181.64 206.64 179.65 215.34 177.67 224.52 175.68 234.20 173.69 244.40 171.71 255.16 169.72 266.51 167.73 278.48 165.75 291.10 163.76" stroke="#fabca2" stroke-width="1.45"/><path d="M55.81 290.90L56.77 287.02 57.84 283.13 59.02 279.25 60.34 275.36 61.80 271.48 63.42 267.59 65.21 263.71 67.21 259.82 69.42 255.94 71.87 252.05 74.59 248.17 77.61 244.28 80.96 240.40 84.67 236.51 88.79 232.63 93.36 228.74 95.83 226.80 98.44 224.86 101.18 222.91 104.06 220.97 107.10 219.03 110.31 217.09 113.68 215.14 117.23 213.20 120.97 211.26 124.91 209.32 129.07 207.37 133.44 205.43 138.04 203.49 142.89 201.55 148.00 199.60 153.38 197.66 159.05 195.72 165.02 193.78 171.31 191.83 177.93 189.89 184.91 187.95 192.26 186.01 200.00 184.06 208.15 182.12 216.73 180.18 225.78 178.24 235.30 176.29 245.33 174.35 255.90 172.41 267.03 170.47 278.75 168.52 291.10 166.58" stroke="#000" stroke-width="1.35" stroke-dasharray="1.3 2.65"/><path d="M59.17 290.90L60.37 287.39 61.68 283.89 63.12 280.38 64.70 276.87 66.44 273.37 68.35 269.86 70.45 266.35 72.75 262.85 75.28 259.34 78.06 255.83 81.11 252.33 84.47 248.82 88.15 245.31 92.19 241.81 96.63 238.30 101.50 234.79 106.86 231.29 112.74 227.78 119.20 224.27 126.29 220.77 134.08 217.26 142.63 213.75 152.03 210.25 162.34 206.74 173.68 203.23 186.12 199.73 199.79 196.22 214.80 192.71 222.85 190.96 231.28 189.21 240.12 187.45 249.38 185.70 259.09 183.95 269.27 182.19 279.93 180.44 291.10 178.69" stroke="#000" stroke-width="1.60" stroke-dasharray="9.5 6.2"/><path d="M60.60 290.90L61.88 287.52 63.29 284.15 64.83 280.77 66.51 277.39 68.35 274.02 70.37 270.64 72.57 267.26 74.99 263.88 77.63 260.51 80.53 257.13 83.69 253.75 87.16 250.38 90.95 247.00 95.10 243.62 99.64 240.25 104.61 236.87 110.05 233.49 116.01 230.12 122.52 226.74 129.66 223.36 137.46 219.98 146.01 216.61 155.36 213.23 165.59 209.85 176.79 206.48 189.04 203.10 202.46 199.72 217.14 196.35 233.21 192.97 250.79 189.59 270.04 186.22 291.10 182.84" stroke="#f9b497" stroke-width="1.45"/><path d="M64.47 290.90L65.97 287.82 67.60 284.73 69.37 281.65 71.29 278.56 73.38 275.48 75.64 272.40 78.10 269.31 80.78 266.23 83.68 263.14 86.83 260.06 90.25 256.98 93.96 253.89 98.00 250.81 102.38 247.73 107.14 244.64 112.30 241.56 117.91 238.47 124.00 235.39 130.62 232.31 137.80 229.22 145.60 226.14 154.07 223.05 163.27 219.97 173.26 216.89 184.10 213.80 195.88 210.72 208.67 207.63 222.55 204.55 237.63 201.47 254.01 198.38 271.79 195.30 291.10 192.22" stroke="#f8aa8a" stroke-width="1.45"/><path d="M67.37 290.90L69.01 288.00 70.79 285.09 72.71 282.19 74.79 279.28 77.03 276.38 79.45 273.47 82.07 270.57 84.90 267.67 87.96 264.76 91.26 261.86 94.84 258.95 98.70 256.05 102.87 253.14 107.38 250.24 112.25 247.34 117.52 244.43 123.21 241.53 129.36 238.62 136.00 235.72 143.18 232.81 150.95 229.91 159.33 227.01 168.40 224.10 178.20 221.20 188.79 218.29 200.23 215.39 212.59 212.48 225.96 209.58 240.40 206.68 256.01 203.77 272.87 200.87 291.10 197.96" stroke="#f7a17d" stroke-width="1.45"/><path d="M69.62 290.90L71.37 288.12 73.25 285.34 75.28 282.56 77.46 279.77 79.81 276.99 82.34 274.21 85.07 271.43 88.00 268.65 91.17 265.87 94.58 263.08 98.25 260.30 102.20 257.52 106.46 254.74 111.05 251.96 115.99 249.18 121.31 246.40 127.05 243.61 133.22 240.83 139.88 238.05 147.04 235.27 154.76 232.49 163.08 229.71 172.04 226.92 181.68 224.14 192.08 221.36 203.27 218.58 215.33 215.80 228.32 213.02 242.31 210.23 257.38 207.45 273.61 204.67 291.10 201.89" stroke="#f6966f" stroke-width="1.45"/><path d="M71.43 290.90L73.25 288.21 75.21 285.52 77.31 282.82 79.57 280.13 82.00 277.44 84.61 274.75 87.41 272.06 90.43 269.36 93.67 266.67 97.15 263.98 100.89 261.29 104.91 258.60 109.23 255.90 113.87 253.21 118.86 250.52 124.22 247.83 129.98 245.14 136.16 242.44 142.81 239.75 149.96 237.06 157.64 234.37 165.89 231.68 174.76 228.98 184.29 226.29 194.53 223.60 205.53 220.91 217.36 218.22 230.06 215.53 243.72 212.83 258.39 210.14 274.16 207.45 291.10 204.76" stroke="#f48b60" stroke-width="1.45"/><path d="M72.90 290.90L74.78 288.28 76.80 285.65 78.96 283.03 81.28 280.41 83.77 277.78 86.44 275.16 89.31 272.54 92.38 269.91 95.67 267.29 99.21 264.67 103.00 262.04 107.07 259.42 111.43 256.79 116.11 254.17 121.13 251.55 126.51 248.92 132.28 246.30 138.48 243.68 145.12 241.05 152.25 238.43 159.89 235.81 168.09 233.18 176.88 230.56 186.31 227.94 196.43 225.31 207.28 222.69 218.92 220.07 231.41 217.44 244.80 214.82 259.17 212.20 274.57 209.57 291.10 206.95" stroke="#f37f50" stroke-width="1.45"/><path d="M74.13 290.90L76.05 288.33 78.12 285.76 80.33 283.19 82.70 280.62 85.24 278.05 87.95 275.48 90.86 272.91 93.98 270.35 97.32 267.78 100.90 265.21 104.73 262.64 108.83 260.07 113.22 257.50 117.93 254.93 122.97 252.36 128.37 249.79 134.15 247.22 140.35 244.65 146.98 242.08 154.09 239.51 161.70 236.94 169.85 234.37 178.58 231.80 187.94 229.24 197.95 226.67 208.68 224.10 220.17 221.53 232.48 218.96 245.66 216.39 259.78 213.82 274.90 211.25 291.10 208.68" stroke="#f17340" stroke-width="1.45"/><path d="M75.16 290.90L77.13 288.37 79.23 285.85 81.48 283.32 83.89 280.80 86.47 278.27 89.22 275.75 92.17 273.22 95.32 270.70 98.70 268.17 102.31 265.65 106.17 263.12 110.30 260.59 114.72 258.07 119.44 255.54 124.50 253.02 129.91 250.49 135.70 247.97 141.89 245.44 148.52 242.92 155.61 240.39 163.19 237.87 171.30 235.34 179.98 232.81 189.26 230.29 199.20 227.76 209.82 225.24 221.19 222.71 233.35 220.19 246.36 217.66 260.28 215.14 275.17 212.61 291.10 210.09" stroke="#f0672f" stroke-width="1.45"/><path d="M76.05 290.90L78.05 288.41 80.19 285.92 82.47 283.43 84.91 280.94 87.52 278.45 90.30 275.97 93.28 273.48 96.46 270.99 99.86 268.50 103.50 266.01 107.39 263.52 111.54 261.03 115.98 258.54 120.72 256.05 125.79 253.56 131.21 251.07 137.00 248.59 143.19 246.10 149.81 243.61 156.88 241.12 164.44 238.63 172.52 236.14 181.15 233.65 190.37 231.16 200.24 228.67 210.77 226.18 222.04 223.69 234.08 221.21 246.94 218.72 260.69 216.23 275.39 213.74 291.10 211.25" stroke="#ee5a1e" stroke-width="1.45"/></g>
<text x="297.50" y="87.94" font-size="11" fill="#fbc3ab">1</text>
<text x="297.50" y="166.74" font-size="11" fill="#fabca2" textLength="12.70" lengthAdjust="spacingAndGlyphs">10</text>
<text x="297.50" y="185.64" font-size="11" fill="#f9b497" textLength="12.70" lengthAdjust="spacingAndGlyphs">20</text>
<text x="297.50" y="195.34" font-size="11" fill="#f8aa8a" textLength="12.70" lengthAdjust="spacingAndGlyphs">30</text>
<text x="297.50" y="214.84" font-size="11" fill="#ee5a1e" textLength="19.05" lengthAdjust="spacingAndGlyphs">100</text>
<text x="106.20" y="70.84" font-size="11" fill="#fcc8b2" text-anchor="middle" textLength="16.3" lengthAdjust="spacingAndGlyphs">0.1</text>
<text x="180.00" y="176.97" font-size="12.5" fill="#111" text-anchor="middle">8</text>
<text x="207.70" y="187.77" font-size="12.5" fill="#111" text-anchor="middle">11</text>
<text x="238.10" y="198.77" font-size="12.5" fill="#111" text-anchor="middle">17</text>
<text x="273.00" y="268.40" font-size="14.5" fill="#ee5a1e" text-anchor="end">EtOH</text>
</g>
<g transform="translate(320,328.5)">
<text x="0.6" y="13.1" font-size="17.5" fill="#000" textLength="23.2" lengthAdjust="spacingAndGlyphs">(d)</text>
<path d="M47.00 32.40H291.10V290.90H47.00Z" fill="none" stroke="#151515" stroke-width="1.50"/>
<text x="47.70" y="308.1" font-size="12.5" fill="#262626" text-anchor="middle" textLength="7.30" lengthAdjust="spacingAndGlyphs">0</text>
<text x="96.52" y="308.1" font-size="12.5" fill="#262626" text-anchor="middle" textLength="21.90" lengthAdjust="spacingAndGlyphs">200</text>
<text x="145.34" y="308.1" font-size="12.5" fill="#262626" text-anchor="middle" textLength="21.90" lengthAdjust="spacingAndGlyphs">400</text>
<text x="194.16" y="308.1" font-size="12.5" fill="#262626" text-anchor="middle" textLength="21.90" lengthAdjust="spacingAndGlyphs">600</text>
<text x="242.98" y="308.1" font-size="12.5" fill="#262626" text-anchor="middle" textLength="21.90" lengthAdjust="spacingAndGlyphs">800</text>
<text x="293.00" y="308.1" font-size="12.5" fill="#262626" text-anchor="middle" textLength="30.00" lengthAdjust="spacingAndGlyphs">1000</text>
<text x="35.10" y="298.10" font-size="12.5" fill="#262626" text-anchor="end" textLength="14.0" lengthAdjust="spacingAndGlyphs">10</text>
<rect x="35.4" y="288.00" width="2.2" height="1.0" fill="#262626"/>
<text x="44.2" y="292.00" font-size="10.3" fill="#262626" text-anchor="end">3</text>
<text x="35.10" y="211.93" font-size="12.5" fill="#262626" text-anchor="end" textLength="14.0" lengthAdjust="spacingAndGlyphs">10</text>
<rect x="35.4" y="201.83" width="2.2" height="1.0" fill="#262626"/>
<text x="44.2" y="205.83" font-size="10.3" fill="#262626" text-anchor="end">2</text>
<text x="35.10" y="125.77" font-size="12.5" fill="#262626" text-anchor="end" textLength="14.0" lengthAdjust="spacingAndGlyphs">10</text>
<rect x="35.4" y="115.67" width="2.2" height="1.0" fill="#262626"/>
<text x="44.2" y="119.67" font-size="10.3" fill="#262626" text-anchor="end">1</text>
<text x="38.30" y="39.60" font-size="12.5" fill="#262626" text-anchor="end" textLength="14.0" lengthAdjust="spacingAndGlyphs">10</text>
<text x="43.2" y="33.50" font-size="10.6" fill="#262626" text-anchor="end">0</text>
<text x="125.00" y="326.6" font-size="12.5" fill="#262626" textLength="94.3" lengthAdjust="spacingAndGlyphs">Current, <tspan font-family="Liberation Serif" font-style="italic">I</tspan> (mA)</text>
<g transform="translate(14.9,0) rotate(-90)">
<text x="-268.00" y="0" font-size="12.5" fill="#262626" textLength="149.30" lengthAdjust="spacingAndGlyphs">Liquid water sweep rate,</text>
<text x="-115.10" y="0" font-size="12.5" fill="#262626" font-family="Liberation Serif" font-style="italic">Q</text>
<text x="-103.20" y="0" font-size="12.5" fill="#262626" textLength="58.10" lengthAdjust="spacingAndGlyphs">(mL/min)</text>
</g>
<path d="M59.20 290.90v-2.60M59.20 32.40v2.60M71.41 290.90v-2.60M71.41 32.40v2.60M83.62 290.90v-2.60M83.62 32.40v2.60M95.82 290.90v-5.00M95.82 32.40v5.00M108.03 290.90v-2.60M108.03 32.40v2.60M120.23 290.90v-2.60M120.23 32.40v2.60M132.44 290.90v-2.60M132.44 32.40v2.60M144.64 290.90v-5.00M144.64 32.40v5.00M156.85 290.90v-2.60M156.85 32.40v2.60M169.05 290.90v-2.60M169.05 32.40v2.60M181.25 290.90v-2.60M181.25 32.40v2.60M193.46 290.90v-5.00M193.46 32.40v5.00M205.67 290.90v-2.60M205.67 32.40v2.60M217.87 290.90v-2.60M217.87 32.40v2.60M230.08 290.90v-2.60M230.08 32.40v2.60M242.28 290.90v-5.00M242.28 32.40v5.00M254.49 290.90v-2.60M254.49 32.40v2.60M266.69 290.90v-2.60M266.69 32.40v2.60M278.90 290.90v-2.60M278.90 32.40v2.60M47.00 264.96h2.60M291.10 264.96h-2.60M47.00 249.79h2.60M291.10 249.79h-2.60M47.00 239.02h2.60M291.10 239.02h-2.60M47.00 230.67h2.60M291.10 230.67h-2.60M47.00 223.85h2.60M291.10 223.85h-2.60M47.00 218.08h2.60M291.10 218.08h-2.60M47.00 213.08h2.60M291.10 213.08h-2.60M47.00 208.68h2.60M291.10 208.68h-2.60M47.00 204.73h5.00M291.10 204.73h-5.00M47.00 178.79h2.60M291.10 178.79h-2.60M47.00 163.62h2.60M291.10 163.62h-2.60M47.00 152.86h2.60M291.10 152.86h-2.60M47.00 144.51h2.60M291.10 144.51h-2.60M47.00 137.68h2.60M291.10 137.68h-2.60M47.00 131.91h2.60M291.10 131.91h-2.60M47.00 126.92h2.60M291.10 126.92h-2.60M47.00 122.51h2.60M291.10 122.51h-2.60M47.00 118.57h5.00M291.10 118.57h-5.00M47.00 92.63h2.60M291.10 92.63h-2.60M47.00 77.45h2.60M291.10 77.45h-2.60M47.00 66.69h2.60M291.10 66.69h-2.60M47.00 58.34h2.60M291.10 58.34h-2.60M47.00 51.52h2.60M291.10 51.52h-2.60M47.00 45.75h2.60M291.10 45.75h-2.60M47.00 40.75h2.60M291.10 40.75h-2.60M47.00 36.34h2.60M291.10 36.34h-2.60" fill="none" stroke="#151515" stroke-width="1.50"/>
<g clip-path="url(#clip)" fill="none"><path d="M47.12 290.90L47.18 274.74 47.28 258.59 47.43 242.43 47.66 226.27 48.02 210.12 48.56 193.96 48.94 185.88 49.41 177.81 49.99 169.73 50.71 161.65 51.60 153.57 52.71 145.49 54.08 137.42 54.89 133.38 55.79 129.34 56.79 125.30 57.91 121.26 59.15 117.22 60.54 113.18 62.08 109.14 63.80 105.10 65.71 101.06 67.85 97.02 70.22 92.99 72.87 88.95 75.82 84.91 79.10 80.87 82.76 76.83 86.84 72.79 89.05 70.77 91.38 68.75 93.84 66.73 96.44 64.71 99.18 62.69 102.07 60.67 105.12 58.65 108.35 56.63 111.75 54.61 115.34 52.60 119.13 50.58 123.13 48.56 127.35 46.54 131.81 44.52 136.51 42.50 141.47 40.48 146.71 38.46 152.24 36.44 158.07 34.42 164.23 32.40" stroke="#dcc2e6" stroke-width="1.45"/><path d="M48.14 290.90L48.60 278.35 49.23 265.81 50.12 253.26 50.69 246.99 51.37 240.72 52.17 234.44 53.11 228.17 54.22 221.90 55.54 215.62 57.10 209.35 58.94 203.08 59.99 199.94 61.12 196.80 62.36 193.67 63.70 190.53 65.16 187.39 66.75 184.26 68.48 181.12 70.35 177.98 72.39 174.85 74.61 171.71 77.03 168.57 79.65 165.44 82.51 162.30 85.61 159.16 88.99 156.03 92.66 152.89 96.65 149.76 100.99 146.62 105.72 143.48 110.85 140.35 116.43 137.21 122.50 134.07 129.10 130.94 136.28 127.80 144.09 124.66 152.57 121.53 161.80 118.39 171.84 115.25 182.76 112.12 194.63 108.98 207.53 105.84 221.57 102.71 236.83 99.57 253.43 96.43 271.47 93.30 291.10 90.16" stroke="#d8bbe2" stroke-width="1.45"/><path d="M51.21 290.90L52.43 281.41 53.17 276.66 54.00 271.91 54.95 267.17 56.02 262.42 57.24 257.67 58.63 252.93 60.20 248.18 61.98 243.43 64.01 238.69 66.31 233.94 68.92 229.19 71.89 224.45 73.52 222.07 75.25 219.70 77.10 217.33 79.07 214.95 81.17 212.58 83.41 210.21 85.80 207.83 88.34 205.46 91.04 203.08 93.93 200.71 97.00 198.34 100.27 195.96 103.76 193.59 107.48 191.22 111.44 188.84 115.66 186.47 120.15 184.10 124.94 181.72 130.05 179.35 135.48 176.98 141.28 174.60 147.45 172.23 154.03 169.86 161.04 167.48 168.50 165.11 176.46 162.74 184.93 160.36 193.97 157.99 203.59 155.62 213.84 153.24 224.77 150.87 236.41 148.50 248.81 146.12 262.02 143.75 276.10 141.38 291.10 139.00" stroke="#000" stroke-width="1.35" stroke-dasharray="1.3 2.65"/><path d="M53.01 290.90L53.75 286.57 54.58 282.24 55.50 277.90 56.55 273.57 57.72 269.24 59.04 264.91 60.51 260.58 62.17 256.25 64.03 251.91 66.12 247.58 68.47 243.25 71.11 238.92 74.06 234.59 77.39 230.25 79.20 228.09 81.11 225.92 83.15 223.76 85.30 221.59 87.58 219.43 90.00 217.26 92.56 215.09 95.28 212.93 98.16 210.76 101.20 208.60 104.43 206.43 107.86 204.26 111.48 202.10 115.32 199.93 119.40 197.77 123.71 195.60 128.28 193.43 133.12 191.27 138.25 189.10 143.69 186.94 149.45 184.77 155.56 182.61 162.03 180.44 168.88 178.27 176.14 176.11 183.84 173.94 191.99 171.78 200.63 169.61 209.79 167.44 219.48 165.28 229.76 163.11 240.65 160.95 252.19 158.78 264.42 156.61 277.37 154.45 291.10 152.28" stroke="#000" stroke-width="1.60" stroke-dasharray="8.4 3.0 1.5 2.8"/><path d="M56.12 290.90L57.10 287.06 58.20 283.21 59.41 279.37 60.75 275.52 62.24 271.68 63.89 267.83 65.71 263.99 67.74 260.14 69.98 256.30 72.47 252.45 75.22 248.61 78.28 244.77 81.66 240.92 85.41 237.08 89.57 233.23 94.17 229.39 99.28 225.54 102.03 223.62 104.93 221.70 107.99 219.78 111.20 217.85 114.59 215.93 118.15 214.01 121.90 212.09 125.85 210.17 130.00 208.24 134.38 206.32 138.98 204.40 143.83 202.48 148.93 200.55 154.31 198.63 159.96 196.71 165.92 194.79 172.19 192.86 178.78 190.94 185.73 189.02 193.04 187.10 200.74 185.18 208.84 183.25 217.38 181.33 226.36 179.41 235.81 177.49 245.76 175.56 256.24 173.64 267.27 171.72 278.88 169.80 291.10 167.88" stroke="#d2b2dc" stroke-width="1.45"/><path d="M61.89 290.90L63.25 287.63 64.73 284.36 66.35 281.09 68.12 277.82 70.05 274.55 72.15 271.27 74.45 268.00 76.96 264.73 79.70 261.46 82.68 258.19 85.94 254.92 89.50 251.65 93.38 248.38 97.62 245.11 102.24 241.84 107.28 238.57 112.79 235.29 118.80 232.02 125.36 228.75 132.52 225.48 140.33 222.21 148.85 218.94 158.15 215.67 168.31 212.40 179.39 209.13 191.48 205.86 204.68 202.59 219.08 199.31 234.80 196.04 251.95 192.77 270.67 189.50 291.10 186.23" stroke="#cba7d6" stroke-width="1.45"/><path d="M65.87 290.90L67.44 287.91 69.15 284.91 70.99 281.92 72.99 278.93 75.15 275.93 77.50 272.94 80.04 269.94 82.79 266.95 85.77 263.96 89.00 260.96 92.50 257.97 96.28 254.98 100.39 251.98 104.84 248.99 109.65 245.99 114.87 243.00 120.52 240.01 126.65 237.01 133.28 234.02 140.47 231.03 148.25 228.03 156.68 225.04 165.82 222.05 175.71 219.05 186.43 216.06 198.05 213.06 210.63 210.07 224.25 207.08 239.02 204.08 255.01 201.09 272.33 198.10 291.10 195.10" stroke="#c39bce" stroke-width="1.45"/><path d="M68.78 290.90L70.49 288.07 72.34 285.25 74.32 282.42 76.47 279.60 78.78 276.77 81.27 273.95 83.96 271.12 86.86 268.29 89.98 265.47 93.35 262.64 96.99 259.82 100.91 256.99 105.14 254.16 109.70 251.34 114.62 248.51 119.92 245.69 125.64 242.86 131.81 240.04 138.46 237.21 145.64 234.38 153.37 231.56 161.72 228.73 170.71 225.91 180.42 223.08 190.88 220.26 202.17 217.43 214.34 214.60 227.46 211.78 241.62 208.95 256.88 206.13 273.35 203.30 291.10 200.48" stroke="#ba8dc6" stroke-width="1.45"/><path d="M71.01 290.90L72.81 288.19 74.75 285.48 76.84 282.76 79.08 280.05 81.49 277.34 84.09 274.63 86.87 271.92 89.87 269.20 93.09 266.49 96.56 263.78 100.28 261.07 104.29 258.36 108.60 255.64 113.22 252.93 118.20 250.22 123.55 247.51 129.31 244.79 135.50 242.08 142.15 239.37 149.30 236.66 156.99 233.95 165.26 231.23 174.14 228.52 183.70 225.81 193.98 223.10 205.02 220.39 216.90 217.67 229.67 214.96 243.40 212.25 258.16 209.54 274.04 206.83 291.10 204.11" stroke="#b17fbe" stroke-width="1.45"/><path d="M72.76 290.90L74.64 288.27 76.65 285.64 78.81 283.01 81.12 280.38 83.61 277.75 86.27 275.12 89.13 272.49 92.20 269.86 95.49 267.23 99.02 264.60 102.81 261.97 106.87 259.34 111.23 256.71 115.90 254.09 120.92 251.46 126.30 248.83 132.07 246.20 138.27 243.57 144.91 240.94 152.04 238.31 159.69 235.68 167.89 233.05 176.69 230.42 186.13 227.79 196.26 225.16 207.13 222.53 218.78 219.90 231.29 217.27 244.70 214.64 259.10 212.01 274.54 209.38 291.10 206.75" stroke="#a870b5" stroke-width="1.45"/><path d="M74.18 290.90L76.11 288.33 78.18 285.77 80.39 283.20 82.76 280.63 85.30 278.07 88.02 275.50 90.93 272.93 94.05 270.36 97.39 267.80 100.97 265.23 104.80 262.66 108.91 260.10 113.30 257.53 118.01 254.96 123.05 252.40 128.45 249.83 134.24 247.26 140.43 244.69 147.07 242.13 154.17 239.56 161.78 236.99 169.93 234.43 178.66 231.86 188.01 229.29 198.02 226.73 208.74 224.16 220.23 221.59 232.53 219.02 245.70 216.46 259.81 213.89 274.92 211.32 291.10 208.76" stroke="#9e61ac" stroke-width="1.45"/><path d="M75.35 290.90L77.32 288.38 79.43 285.86 81.69 283.35 84.11 280.83 86.69 278.31 89.45 275.79 92.40 273.28 95.56 270.76 98.94 268.24 102.56 265.72 106.43 263.21 110.56 260.69 114.98 258.17 119.72 255.65 124.78 253.13 130.19 250.62 135.98 248.10 142.17 245.58 148.79 243.06 155.88 240.55 163.46 238.03 171.56 235.51 180.23 232.99 189.50 230.48 199.42 227.96 210.03 225.44 221.37 222.92 233.51 220.41 246.49 217.89 260.37 215.37 275.22 212.85 291.10 210.33" stroke="#9451a2" stroke-width="1.45"/><path d="M76.33 290.90L78.34 288.42 80.49 285.94 82.78 283.47 85.23 280.99 87.85 278.51 90.64 276.03 93.63 273.56 96.82 271.08 100.23 268.60 103.88 266.12 107.77 263.64 111.93 261.17 116.37 258.69 121.12 256.21 126.20 253.73 131.62 251.25 137.41 248.78 143.60 246.30 150.21 243.82 157.28 241.34 164.83 238.87 172.89 236.39 181.51 233.91 190.72 231.43 200.56 228.95 211.07 226.48 222.30 224.00 234.30 221.52 247.12 219.04 260.82 216.56 275.46 214.09 291.10 211.61" stroke="#894098" stroke-width="1.45"/><path d="M77.17 290.90L79.21 288.46 81.38 286.01 83.70 283.57 86.18 281.12 88.83 278.68 91.65 276.23 94.66 273.79 97.88 271.34 101.32 268.90 104.99 266.45 108.90 264.01 113.08 261.56 117.54 259.12 122.30 256.67 127.39 254.23 132.82 251.78 138.61 249.34 144.80 246.89 151.40 244.45 158.45 242.00 165.97 239.56 174.00 237.11 182.58 234.67 191.73 232.22 201.51 229.78 211.94 227.33 223.07 224.89 234.96 222.44 247.65 220.00 261.20 217.55 275.66 215.11 291.10 212.66" stroke="#7e2f8e" stroke-width="1.45"/></g>
<text x="297.50" y="91.74" font-size="11" fill="#d8bbe2">1</text>
<text x="297.50" y="170.34" font-size="11" fill="#d2b2dc" textLength="12.70" lengthAdjust="spacingAndGlyphs">10</text>
<text x="297.50" y="187.84" font-size="11" fill="#cba7d6" textLength="12.70" lengthAdjust="spacingAndGlyphs">20</text>
<text x="297.50" y="197.44" font-size="11" fill="#c39bce" textLength="12.70" lengthAdjust="spacingAndGlyphs">30</text>
<text x="297.50" y="216.54" font-size="11" fill="#7e2f8e" textLength="21.3" lengthAdjust="spacingAndGlyphs">100</text>
<text x="114.90" y="69.54" font-size="11" fill="#dcc2e6" text-anchor="middle" textLength="16.3" lengthAdjust="spacingAndGlyphs">0.1</text>
<text x="174.60" y="158.97" font-size="12.5" fill="#111" text-anchor="middle">4</text>
<text x="191.20" y="185.07" font-size="12.5" fill="#111" text-anchor="middle">6</text>
<text x="270.60" y="268.40" font-size="14.5" fill="#7e2f8e" text-anchor="end">PrOH</text>
</g>
</svg></body></html>
